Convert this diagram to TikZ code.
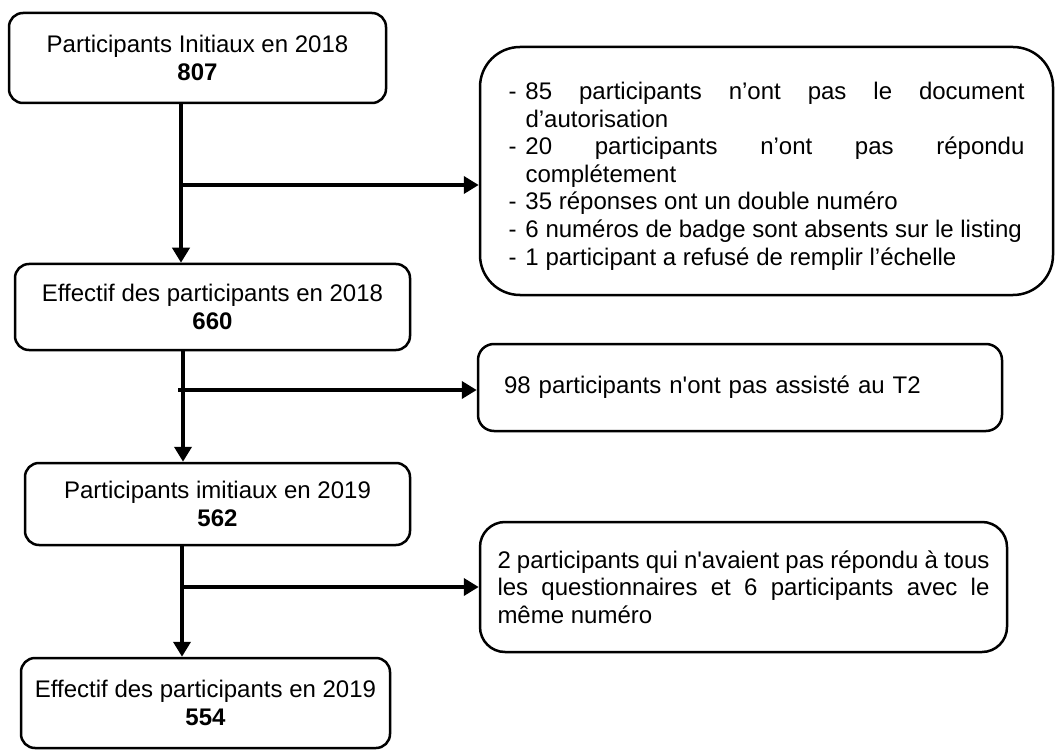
\documentclass[tikz,border=0pt]{standalone}
\usepackage{fontspec}
\setmainfont{Liberation Sans}
\usetikzlibrary{positioning}
\usetikzlibrary{arrows.meta}

\newcommand{\dashitem}[1]{\par\hangindent=17pt\hangafter=1\noindent\makebox[17pt][l]{-}#1}

\begin{document}
\begin{tikzpicture}[x=1pt,y=-1pt]
\tikzset{
stage/.style = {rectangle,draw,
                rounded corners=14pt,
                line width=2.5pt,
                align=center,
                inner sep=0pt,
                font=\fontsize{24}{27.6}\selectfont},
excl/.style = {rectangle,draw,
               rounded corners=16pt,
               line width=2.5pt,
               inner sep=0pt,
               font=\fontsize{24}{27.6}\selectfont,
               execute at begin node={\hyphenpenalty=10000\exhyphenpenalty=10000\tolerance=9999}},
flow/.style = {line width=4.5pt,
               -{Triangle[width=17pt,length=15pt]}}
}

\useasboundingbox (0,0) rectangle (1057,751);

\node[stage,minimum width=377pt,minimum height=90pt] at (197.5,58)  (init18) {Participants Initiaux en 2018\\\textbf{807}};
\node[stage,minimum width=395pt,minimum height=86pt] at (212.5,307) (eff18)  {Effectif des participants en 2018\\\textbf{660}};
\node[stage,minimum width=385pt,minimum height=82pt] at (217.5,504) (init19) {Participants imitiaux en 2019\\\textbf{562}};
\node[stage,minimum width=369pt,minimum height=90pt] at (205.5,703) (eff19)  {Effectif des participants en 2019\\\textbf{554}};

\node[excl,rounded corners=40pt,align=justify,text width=516pt,
      minimum width=573pt,minimum height=248pt] at (766.5,171) (excl1) {%
  \dashitem{85 participants n’ont pas le document d’autorisation}
  \dashitem{20 participants n’ont pas répondu complétement}
  \dashitem{35 réponses ont un double numéro}
  \dashitem{6 numéros de badge sont absents sur le listing}
  \dashitem{1 participant a refusé de remplir l’échelle}};
\node[excl,align=left,text width=472pt,
      minimum width=524pt,minimum height=87pt] at (740,387.5) (excl2)
  {98 participants n\textquotesingle ont pas assisté au T2};
\node[excl,rounded corners=25pt,align=justify,text width=492pt,
      minimum width=527pt,minimum height=130pt] at (743.5,587) (excl3)
  {2 participants qui n\textquotesingle avaient pas répondu à tous les questionnaires et 6 participants avec le même numéro};

\coordinate (t1) at (181,185);
\coordinate (t2) at (183,390);
\coordinate (t3) at (182,587);

\draw[flow] (init18.south -| t1) -- (eff18.north -| t1);
\draw[flow] (t1) -- (t1 -| excl1.west);
\draw[flow] (eff18.south -| t2) -- (init19.north -| t2);
\draw[flow] ([xshift=-5pt]t2) -- (t2 -| excl2.west);
\draw[flow] (init19.south -| t3) -- (eff19.north -| t3);
\draw[flow] (t3) -- (t3 -| excl3.west);
\end{tikzpicture}
\end{document}
